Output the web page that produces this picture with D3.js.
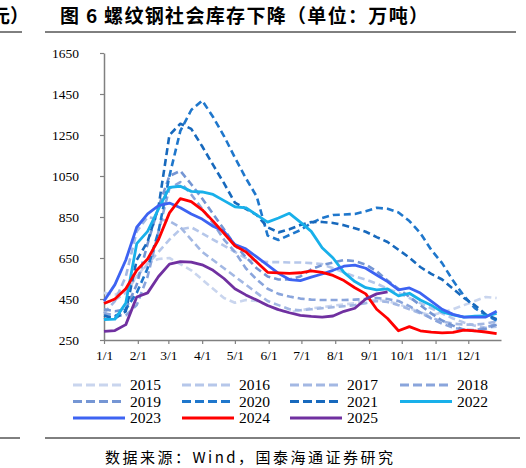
<!DOCTYPE html>
<html>
<head>
<meta charset="utf-8">
<script src="https://cdn.jsdelivr.net/npm/d3@7"></script>
<style>
  body { margin: 0; background: #fff; }
  svg { display: block; }
</style>
</head>
<body>
<div id="chart"></div>
<script>
!(function () {
  'use strict';

  // - - - - - - - - - -
  // data (every 10 days from 1/1)
  const days = [0, 10, 20, 30, 40, 50, 60, 70, 80, 90, 100, 110, 120, 130, 140, 150, 160, 170, 180,
    190, 200, 210, 220, 230, 240, 250, 260, 270, 280, 290, 300, 310, 320, 330, 340, 350, 360];

  const years = ['2015', '2016', '2017', '2018', '2019', '2020', '2021', '2022', '2023', '2024', '2025'];

  const y2015 = [480, 470, 500, 560, 625, 645, 650, 620, 590, 545, 500, 455, 432, 445, 440, 420, 395, 385, 395,
    405, 410, 418, 423, 430, 440, 445, 440, 425, 405, 385, 370, 385, 400, 420, 440, 460, 455];
  const y2016 = [430, 445, 480, 560, 620, 680, 740, 790, 800, 770, 740, 710, 680, 650, 635, 630, 630, 628, 628,
    625, 620, 600, 580, 560, 545, 525, 500, 480, 455, 430, 405, 380, 355, 335, 320, 310, 315];
  const y2017 = [380, 440, 560, 780, 850, 840, 830, 800, 740, 680, 640, 600, 560, 520, 480, 440, 420, 400, 395,
    400, 405, 410, 415, 420, 430, 440, 435, 420, 400, 380, 360, 340, 330, 325, 325, 330, 340];
  const y2018 = [380, 370, 370, 420, 560, 780, 990, 1020, 960, 890, 820, 740, 680, 600, 545, 500, 475, 462, 452,
    447, 445, 445, 445, 447, 450, 455, 450, 440, 415, 385, 355, 330, 310, 300, 298, 310, 330];
  const y2019 = [400, 390, 400, 520, 720, 900, 1050, 1075, 1010, 940, 865, 790, 715, 655, 600, 560, 545, 545, 560,
    595, 615, 628, 640, 635, 618, 585, 540, 500, 460, 420, 380, 345, 320, 300, 294, 305, 325];
  const y2020 = [350, 365, 400, 480, 600, 780, 1050, 1270, 1372, 1418, 1338, 1245, 1140, 1040, 950, 760, 738, 762, 786,
    820, 845, 860, 862, 865, 878, 895, 890, 872, 830, 772, 690, 625, 540, 465, 405, 372, 345];
  const y2021 = [370, 355, 390, 640, 730, 900, 1250, 1305, 1280, 1195, 1104, 1015, 920, 890, 860, 800, 775, 790, 811,
    825, 826, 821, 810, 795, 778, 752, 728, 690, 652, 606, 573, 545, 500, 455, 420, 375, 352];
  const y2022 = [350, 352, 430, 720, 780, 890, 995, 1000, 975, 972, 960, 930, 900, 895, 860, 825, 845, 868, 825,
    780, 700, 650, 580, 535, 505, 495, 499, 465, 478, 445, 420, 387, 372, 362, 366, 367, 380];
  const y2023 = [440, 520, 640, 800, 865, 905, 918, 895, 865, 840, 805, 780, 715, 695, 655, 615, 575, 545, 540,
    557, 572, 590, 610, 615, 600, 567, 535, 495, 504, 479, 440, 400, 375, 362, 362, 362, 390];
  const y2024 = [428, 450, 500, 590, 645, 740, 870, 940, 925, 885, 830, 770, 710, 680, 630, 580, 577, 575, 578,
    587, 580, 565, 540, 505, 475, 400, 355, 295, 315, 295, 288, 285, 287, 298, 295, 289, 281];
  const y2025 = [292, 296, 325, 460, 480, 560, 620, 632, 630, 617, 590, 550, 500, 470, 445, 418, 398, 383, 370,
    365, 362, 367, 390, 405, 450, 475, 485, null, null, null, null, null, null, null, null, null, null];

  const yTicks = [250, 450, 650, 850, 1050, 1250, 1450, 1650];
  const xTickLabels = ['1/1', '2/1', '3/1', '4/1', '5/1', '6/1', '7/1', '8/1', '9/1', '10/1', '11/1', '12/1'];

  // - - - - - - - - - -
  // styles
  const seriesValues = [y2015, y2016, y2017, y2018, y2019, y2020, y2021, y2022, y2023, y2024, y2025];
  const colors = ['#c9d5ee', '#b6c7ea', '#a3b8e3', '#8aa5dc', '#7596d4', '#1f77cc', '#1769bd',
    '#18b0ea', '#3d63f2', '#ff0000', '#7030a0'];
  const dashed = [true, true, true, true, true, true, true, false, false, false, false];

  const W = 526, H = 468;
  const margin = { left: 104, right: 501, top: 53, bottom: 340 };
  const baseYear = 2021;
  const start = new Date(baseYear, 0, 1);

  const svg = d3.select('#chart')
    .append('svg')
    .attr('width', W)
    .attr('height', H);

  svg.append('rect').attr('width', W).attr('height', H).attr('fill', '#fff');

  // title strip (the left fragment is cut by the page edge, as in the source page)
  svg.append('text')
    .attr('x', -9).attr('y', 23)
    .attr('font-family', '"Noto Sans CJK SC", sans-serif')
    .attr('font-weight', 700)
    .attr('font-size', 19)
    .text('元）');
  svg.append('text')
    .attr('x', 60).attr('y', 23)
    .attr('font-family', '"Noto Sans CJK SC", sans-serif')
    .attr('font-weight', 700)
    .attr('font-size', 19)
    .attr('textLength', 368)
    .attr('lengthAdjust', 'spacing')
    .text('图 6 螺纹钢社会库存下降（单位：万吨）');
  svg.append('line').attr('x1', 0).attr('x2', 22).attr('y1', 32).attr('y2', 32)
    .attr('stroke', '#000').attr('stroke-width', 1);
  svg.append('line').attr('x1', 45).attr('x2', 516).attr('y1', 32).attr('y2', 32)
    .attr('stroke', '#000').attr('stroke-width', 1);

  // scales
  const x = d3.scaleTime()
    .domain([start, new Date(baseYear, 11, 31)])
    .range([margin.left, margin.right]);
  const y = d3.scaleLinear()
    .domain([250, 1650])
    .range([margin.bottom, margin.top]);

  const monthDates = d3.range(12).map(function (m) { return new Date(baseYear, m, 1); });

  // axes
  const gy = svg.append('g')
    .attr('transform', 'translate(' + margin.left + ',0)')
    .call(d3.axisLeft(y).tickValues(yTicks).tickSize(4).tickSizeOuter(0).tickPadding(21)
      .tickFormat(d3.format('d')));
  const gx = svg.append('g')
    .attr('transform', 'translate(0,' + margin.bottom + ')')
    .call(d3.axisBottom(x).tickValues(monthDates).tickSize(4).tickSizeOuter(0).tickPadding(6)
      .tickFormat(function (d, i) { return xTickLabels[i]; }));

  [gx, gy].forEach(function (g) {
    g.select('.domain').attr('stroke', '#808080').attr('stroke-width', 1.5);
    g.selectAll('.tick line').attr('stroke', '#808080').attr('stroke-width', 1.2);
    g.selectAll('.tick text')
      .attr('fill', '#000')
      .attr('font-family', '"Liberation Serif", serif')
      .attr('font-size', 13.5);
  });

  // lines
  const line = d3.line()
    .defined(function (d) { return d.v !== null; })
    .x(function (d) { return x(d3.timeDay.offset(start, d.day)); })
    .y(function (d) { return y(d.v); });

  years.forEach(function (yr, i) {
    const pts = days.map(function (d, j) { return { day: d, v: seriesValues[i][j] }; });
    svg.append('path')
      .datum(pts)
      .attr('fill', 'none')
      .attr('stroke', colors[i])
      .attr('stroke-width', dashed[i] ? 2.6 : 2.8)
      .attr('stroke-dasharray', dashed[i] ? '7,4' : null)
      .attr('stroke-linejoin', 'round')
      .attr('d', line);
  });

  // legend
  const legend = svg.append('g');
  const colX = [73, 182, 290, 400];
  const rowY = [385, 401.5, 418];
  years.forEach(function (yr, i) {
    const cx = colX[i % 4], cy = rowY[Math.floor(i / 4)];
    legend.append('line')
      .attr('x1', cx).attr('x2', cx + 52)
      .attr('y1', cy).attr('y2', cy)
      .attr('stroke', colors[i])
      .attr('stroke-width', 3)
      .attr('stroke-dasharray', dashed[i] ? '9,4' : null);
    legend.append('text')
      .attr('x', cx + 57).attr('y', cy + 5)
      .attr('font-family', '"Liberation Serif", serif')
      .attr('font-size', 15.5)
      .text(yr);
  });

  // source
  svg.append('line').attr('x1', 0).attr('x2', 20).attr('y1', 438).attr('y2', 438)
    .attr('stroke', '#000').attr('stroke-width', 1);
  svg.append('line').attr('x1', 45).attr('x2', 520).attr('y1', 438).attr('y2', 438)
    .attr('stroke', '#000').attr('stroke-width', 1);
  svg.append('text')
    .attr('x', 105).attr('y', 463)
    .attr('font-family', '"Noto Sans CJK SC", sans-serif')
    .attr('font-size', 15)
    .attr('textLength', 288)
    .attr('lengthAdjust', 'spacing')
    .text('数据来源：Wind，国泰海通证券研究');
  // - - - - - - - - - -
}());
</script>
</body>
</html>
